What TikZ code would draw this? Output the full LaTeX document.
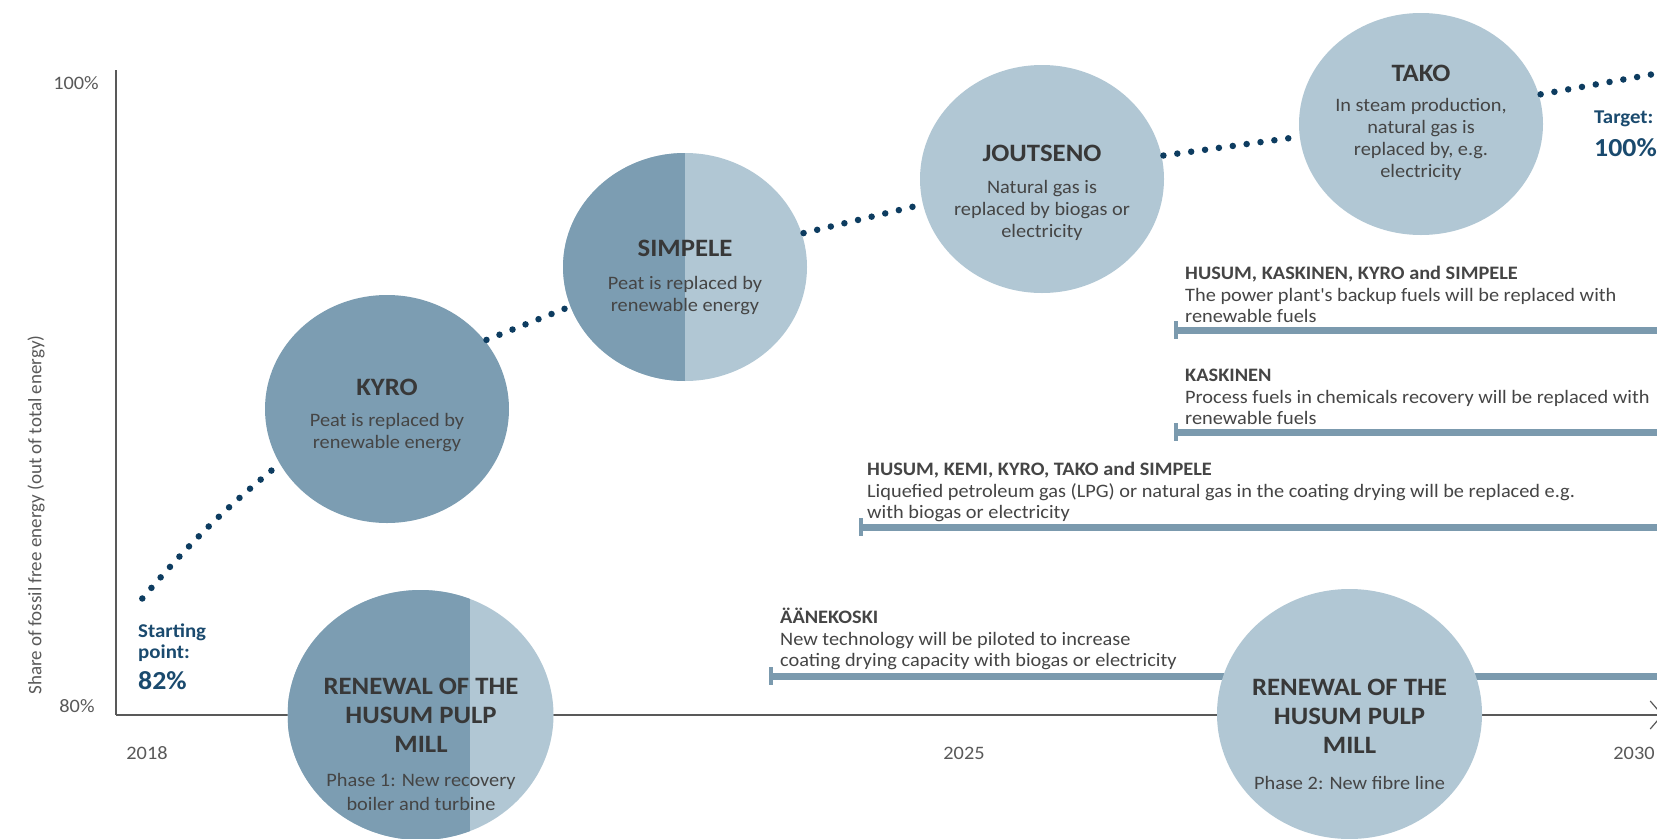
\documentclass[tikz,border=0pt]{standalone}
\usepackage{fontspec}
\setmainfont{Carlito}[FakeStretch=1.07]
\newfontfamily\plainfont{Carlito}
\usetikzlibrary{shapes.geometric,arrows.meta}

\definecolor{discdark}{HTML}{7C9DB2}
\definecolor{disclight}{HTML}{B1C7D4}
\definecolor{barblue}{HTML}{7B9AAE}
\definecolor{dotnavy}{HTML}{0D3C60}
\definecolor{labelnavy}{HTML}{1A4A6E}
\definecolor{inktext}{HTML}{454545}
\definecolor{headink}{HTML}{383838}
\definecolor{axisgray}{HTML}{595959}

\newcommand\discheadfont{\fontsize{25}{29}\selectfont\bfseries\color{headink}}
\newcommand\disctextfont{\fontsize{19}{22}\selectfont}
\newcommand\bartextfont{\fontsize{19}{21.5}\selectfont}
\newcommand\markfont{\fontsize{19.5}{22}\selectfont\bfseries}
\newcommand\markbigfont{\fontsize{26}{30}\selectfont\bfseries}

\tikzset{
  disc/.style={ellipse, inner sep=0pt, outer sep=0pt, draw=none},
  halfdark/.style={path picture={\fill[discdark] (path picture bounding box.south west)
      rectangle ([xshift=#1]path picture bounding box.north);}},
  disctext/.style={align=center, anchor=north, inner sep=0pt, text=inktext, font=\disctextfont},
  dotline/.style={dotnavy, line width=6.5pt, line cap=round, dash pattern=on 0pt off 14pt,
      shorten <=2pt, shorten >=2pt},
  barline/.style={barblue, line width=7pt},
  bartick/.style={barblue, line width=3.5pt},
  bartext/.style={align=left, anchor=north west, inner sep=0pt, text=inktext, font=\bartextfont},
  axisline/.style={axisgray, line width=1.2pt},
  axislabel/.style={text=axisgray, font=\disctextfont, inner sep=0pt},
  marklabel/.style={text=labelnavy, inner sep=0pt, anchor=base west}
}

\begin{document}
\begin{tikzpicture}[x=1pt, y=-1pt]
\useasboundingbox (0,0) rectangle (1657,838);
\fill[white] (0,0) rectangle (1657,838);

% axes
\coordinate (ytop) at (116,70);
\coordinate (origin) at (116,715);
\coordinate (xend) at (1663,715);
\draw[axisline] (ytop) -- (origin);
\draw[axisline, -{Straight Barb[length=12pt, width=28pt]}] (origin) -- (xend);

\node[axislabel] (p100) at (76,83) {100\%};
\node[axislabel] (p80) at (77,706) {80\%};
\node[axislabel] (y2018) at (147,753) {2018};
\node[axislabel] (y2025) at (964,753) {2025};
\node[axislabel] (y2030) at (1634,753) {2030};
\node[rotate=90, text=axisgray, inner sep=0pt, font=\plainfont\fontsize{19}{22}\selectfont]
  (ylabel) at (36,515) {Share of fossil free energy (out of total energy)};

% measure bars
\coordinate (b1s) at (1176,330);  \coordinate (b1e) at (1660,330);
\coordinate (b2s) at (1176,432);  \coordinate (b2e) at (1660,432);
\coordinate (b3s) at (861,527);   \coordinate (b3e) at (1660,527);
\coordinate (b4s) at (771,676);   \coordinate (b4e) at (1660,676);
\foreach \b in {b1,b2,b3,b4}{
  \draw[barline] (\b s) -- (\b e);
  \draw[bartick] ([yshift=9pt]\b s) -- ([yshift=-9pt]\b s);
}

\node[bartext] (t1) at (1185,266) {{\bfseries HUSUM, KASKINEN, KYRO and SIMPELE}\\
  The power plant\textquotesingle s backup fuels will be replaced with\\renewable fuels};
\node[bartext] (t2) at (1185,369) {{\bfseries KASKINEN}\\
  Process fuels in chemicals recovery will be replaced with\\renewable fuels};
\node[bartext] (t3) at (867,462) {{\bfseries HUSUM, KEMI, KYRO, TAKO and SIMPELE}\\
  Liquefied petroleum gas (LPG) or natural gas in the coating drying will be replaced e.g.\\
  with biogas or electricity};
\node[bartext] (t4) at (780,608) {{\bfseries ÄÄNEKOSKI}\\
  New technology will be piloted to increase\\coating drying capacity with biogas or electricity};

% mill discs
\node[disc, fill=discdark, minimum width=244pt, minimum height=228pt] (kyro) at (387,409) {};
\node[disc, fill=disclight, halfdark=0pt, minimum width=244pt, minimum height=228pt] (simpele) at (685,267) {};
\node[disc, fill=disclight, minimum width=244pt, minimum height=228pt] (joutseno) at (1042,179) {};
\node[disc, fill=disclight, minimum width=244pt, minimum height=222pt] (tako) at (1421,124) {};
\node[disc, fill=disclight, halfdark=49.5pt, minimum width=266pt, minimum height=250pt] (husumA) at (420.5,715) {};
\node[disc, fill=disclight, minimum width=265pt, minimum height=250pt] (husumB) at (1349.5,714) {};

\node[disctext] (kyrotxt) at (387,379) {{\discheadfont KYRO}\\[8.5pt]Peat is replaced by\\renewable energy};
\node[disctext] (simpeletxt) at (685,240) {{\discheadfont SIMPELE}\\[10.5pt]Peat is replaced by\\renewable energy};
\node[disctext] (joutsenotxt) at (1042,145) {{\discheadfont JOUTSENO}\\[9.5pt]Natural gas is\\replaced by biogas or\\electricity};
\node[disctext] (takotxt) at (1421,65) {{\discheadfont TAKO}\\[8pt]In steam production,\\natural gas is\\replaced by, e.g.\\electricity};
\node[disctext] (husumAtxt) at (421,678) {{\discheadfont RENEWAL OF THE}\\[7pt]{\discheadfont HUSUM PULP}\\[7pt]{\discheadfont MILL}\\[12pt]Phase 1: New recovery\\[1.5pt]boiler and turbine};
\node[disctext] (husumBtxt) at (1349.5,679) {{\discheadfont RENEWAL OF THE}\\[7pt]{\discheadfont HUSUM PULP}\\[7pt]{\discheadfont MILL}\\[13.5pt]Phase 2: New fibre line};

% fossil free share path
\coordinate (s0) at (141,600);
\coordinate (e0) at (1654,74);
\draw[dotline] (s0) to[bend left=5] (kyro.207);
\draw[dotline] (kyro.35) -- (simpele.199);
\draw[dotline] (simpele.16) -- (joutseno.192);
\draw[dotline] (joutseno.11) -- (tako.186);
\draw[dotline] (tako.14) -- (e0);

% start and target marks
\node[marklabel, font=\markfont] (startA) at (138,637) {Starting};
\node[marklabel, font=\markfont] (startB) at (138,658) {point:};
\node[marklabel, font=\markbigfont] (startC) at (138,689) {82\%};
\node[marklabel, font=\markfont] (targetA) at (1594,123) {Target:};
\node[marklabel, font=\markbigfont] (targetB) at (1594,156) {100\%};
\end{tikzpicture}
\end{document}
